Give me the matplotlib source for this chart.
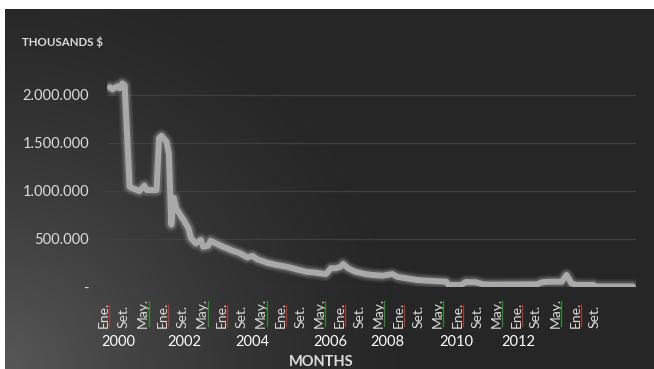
import matplotlib.pyplot as plt
import numpy as np
from matplotlib.lines import Line2D
from matplotlib.transforms import blended_transform_factory

plt.rcParams['font.family'] = ['Lato', 'DejaVu Sans']

# month index (from Jan 2000) and balance in thousands $
month_idx = [0, 1, 3, 4, 5, 6, 8, 9, 12, 14, 15, 19, 20, 21, 23, 24, 25, 26, 27,
             29, 30, 32, 33, 35, 37, 38, 40, 41, 43, 46, 50, 53, 56, 58, 60, 64,
             68, 72, 76, 80, 84, 88, 90, 92, 94, 95, 97, 100, 104, 107, 111, 115,
             117, 121, 125, 129, 137, 138, 143, 145, 149, 152, 155, 174, 176, 179,
             184, 186, 188, 190, 197, 198, 213]
balance = [2080000, 2060000, 2090000, 2070000, 2120000, 2100000, 1045000, 1030000,
           1000000, 1055000, 1010000, 1010000, 1550000, 1575000, 1515000, 1390000,
           650000, 930000, 820000, 736000, 700000, 610000, 510000, 455000, 490000,
           420000, 430000, 480000, 455000, 420000, 378000, 351000, 309000, 323000,
           289000, 253000, 229000, 211000, 184000, 159000, 149000, 135000, 195000,
           195000, 211000, 240000, 195000, 159000, 135000, 125000, 118000, 135000,
           107000, 90000, 73000, 66000, 55000, 21000, 21000, 52000, 49000, 28000,
           25000, 28000, 49000, 55000, 55000, 125000, 38000, 21000, 21000, 5000, 5000]

month_labels = ['Ene.', 'Set.', 'May.', 'Ene.', 'Set.', 'May.', 'Ene.', 'Set.', 'May.',
                'Ene.', 'Set.', 'May.', 'Ene.', 'Set.', 'May.', 'Ene.', 'Set.', 'May.',
                'Ene.', 'Set.', 'May.', 'Ene.', 'Set.', 'May.', 'Ene.', 'Set.']
year_labels = ['2000', '2002', '2004', '2006', '2008', '2010', '2012']
year_pos = [3.3, 30.1, 57.8, 89.6, 112.8, 141.3, 166.2]

y_ticks = [0, 500000, 1000000, 1500000, 2000000]
y_tick_labels = ['-', '500.000', '1.000.000', '1.500.000', '2.000.000']

W, H = 654, 369
txt = '#dcdcdc'

fig = plt.figure(figsize=(W / 100, H / 100), dpi=100)
fig.patch.set_facecolor('white')

# dark chart area with a soft light spot in the lower left corner
bg = fig.add_axes([5 / W, 0, (W - 5) / W, (H - 9) / H])
bg.axis('off')
gx, gy = np.meshgrid(np.arange(W - 5), np.arange(H - 9))
d = np.hypot(gx, gy)
shade = 38 + 50 * np.clip(1 - d / 420, 0, 1) ** 1.5
img = np.dstack([shade, shade, shade]) / 255
bg.imshow(img, origin='lower', aspect='auto', extent=[0, 1, 0, 1])
bg.set_xlim(0, 1)
bg.set_ylim(0, 1)

ax = fig.add_axes([107 / W, (H - 287) / H, (636 - 107) / W, 240 / H])
ax.set_facecolor('none')
ax.set_xlim(-1.2, 214.3)
ax.set_ylim(0, 2500000)

for yv in y_ticks:
    ax.axhline(yv, color='#404040', lw=0.9, zorder=1)

# glow under the main line
for lw, a in [(10.5, 0.05), (8.5, 0.08), (6.8, 0.12)]:
    ax.plot(month_idx, balance, color='white', lw=lw, alpha=a,
            solid_joinstyle='round', solid_capstyle='round', zorder=2)
ax.plot(month_idx, balance, color='#a9a9a9', lw=4.3,
        solid_joinstyle='round', solid_capstyle='round', zorder=3)

for s in ax.spines.values():
    s.set_visible(False)
ax.set_yticks(y_ticks)
ax.set_yticklabels(y_tick_labels)
ax.tick_params(axis='y', length=0, pad=13, labelcolor=txt, labelsize=10.5)
ax.set_xticks([])

trans = blended_transform_factory(ax.transData, ax.transAxes)
month_texts = []
for k, lab in enumerate(month_labels):
    t = ax.text(8 * k, (287 - 328) / 240, lab, transform=trans, rotation=90,
                rotation_mode='anchor', ha='left', va='bottom',
                color=txt, fontsize=10, clip_on=False)
    month_texts.append(t)

for pos, lab in zip(year_pos, year_labels):
    ax.text(pos, (287 - 342) / 240, lab, transform=trans, ha='center', va='center',
            color='white', fontsize=10.5, clip_on=False)

fig.text(22 / W, (H - 42) / H, 'THOUSANDS $', ha='left', va='center',
         color=txt, fontsize=8.3, fontweight='bold')
fig.text(321 / W, (H - 362) / H, 'MONTHS', ha='center', va='center',
         color=txt, fontsize=10.5, fontweight='bold')

# spell-check underlines next to the rotated month names
fig.canvas.draw()
inv = fig.transFigure.inverted()
for t in month_texts:
    lab = t.get_text()
    if lab == 'Set.':
        continue
    col = '#c0392b' if lab == 'Ene.' else '#2e9a2e'
    bb = t.get_window_extent()
    (x0, y0), (x1, y1) = inv.transform([[bb.x1 - 0.5, bb.y0 + 2], [bb.x1 - 0.5, bb.y1 - 3]])
    fig.add_artist(Line2D([x0, x1], [y0, y1], color=col, lw=0.9, alpha=0.9))

fig.savefig('out.png', dpi=100)
